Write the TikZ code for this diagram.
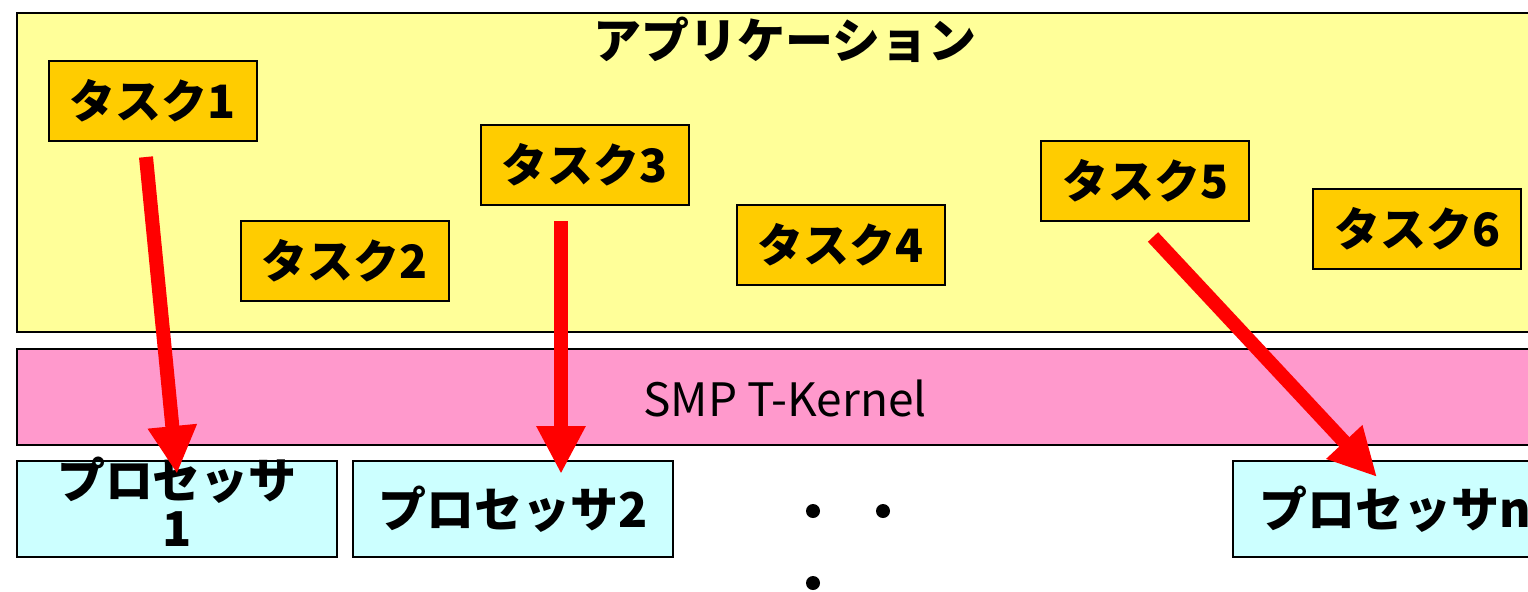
\documentclass[tikz,border=0pt]{standalone}
\usepackage{fontspec}
\newfontfamily\jpfont{Noto Sans CJK JP}
\usetikzlibrary{arrows.meta}

\begin{document}
\begin{tikzpicture}[x=0.5pt, y=-0.5pt]

\tikzset{layer/.style = {draw, line width=0.8pt}}
\tikzset{task/.style = {draw, line width=0.8pt, fill=taskfill, minimum width=104pt, minimum height=40pt, inner sep=0pt, font=\jpfont\bfseries\fontsize{23}{26}\selectfont}}
\tikzset{cpu/.style = {draw, line width=0.8pt, fill=cpufill, minimum width=160pt, minimum height=48pt, inner sep=0pt, font=\jpfont\bfseries\fontsize{24}{24}\selectfont}}
\tikzset{assign/.style = {draw=red, line width=7pt, -{Triangle[length=24pt, width=23pt]}}}
\definecolor{appfill}{HTML}{FFFF99}
\definecolor{taskfill}{HTML}{FFCC00}
\definecolor{kernfill}{HTML}{FF99CC}
\definecolor{cpufill}{HTML}{CCFFFF}

\useasboundingbox (0,0) rectangle (1528,591);
\clip (0,0) rectangle (1528,591);

%layers
\draw[layer, fill=appfill] (17,13) rectangle (1560,332);
\node[font=\jpfont\bfseries\fontsize{24}{26}\selectfont] (app) at (785,40) {アプリケーション};
\draw[layer, fill=kernfill] (17,349) rectangle (1560,445);
\node[font=\jpfont\fontsize{23}{26}\selectfont] (kern) at (785,398) {SMP T-Kernel};

%tasks
\node[task] (t1) at (153,101) {タスク1};
\node[task] (t2) at (345,261) {タスク2};
\node[task] (t3) at (585,165) {タスク3};
\node[task] (t4) at (841,245) {タスク4};
\node[task] (t5) at (1145,181) {タスク5};
\node[task] (t6) at (1417,229) {タスク6};

%processors
\node[cpu] (p1) at (177,509) {};
\node[font=\jpfont\bfseries\fontsize{24}{24}\selectfont, align=center, inner sep=0pt] (p1txt) at (177,502) {プロセッサ\\1};
\node[cpu] (p2) at (513,509) {プロセッサ2};
\node[cpu, text width=160pt, align=left] (pn) at (1393,509) {\hspace*{13pt}プロセッサn};

%dots
\fill (813,511) circle (7);
\fill (883,511) circle (7);
\fill (813,583) circle (7);

%assignments
\coordinate (a1) at (146,157);
\coordinate (b1) at (177,474);
\coordinate (a2) at (561,221);
\coordinate (b2) at (561,474);
\coordinate (a3) at (1153,237);
\coordinate (b3) at (1377,477);
\draw[assign] (a1) -- (b1);
\draw[assign] (a2) -- (b2);
\draw[assign] (a3) -- (b3);

\end{tikzpicture}
\end{document}
